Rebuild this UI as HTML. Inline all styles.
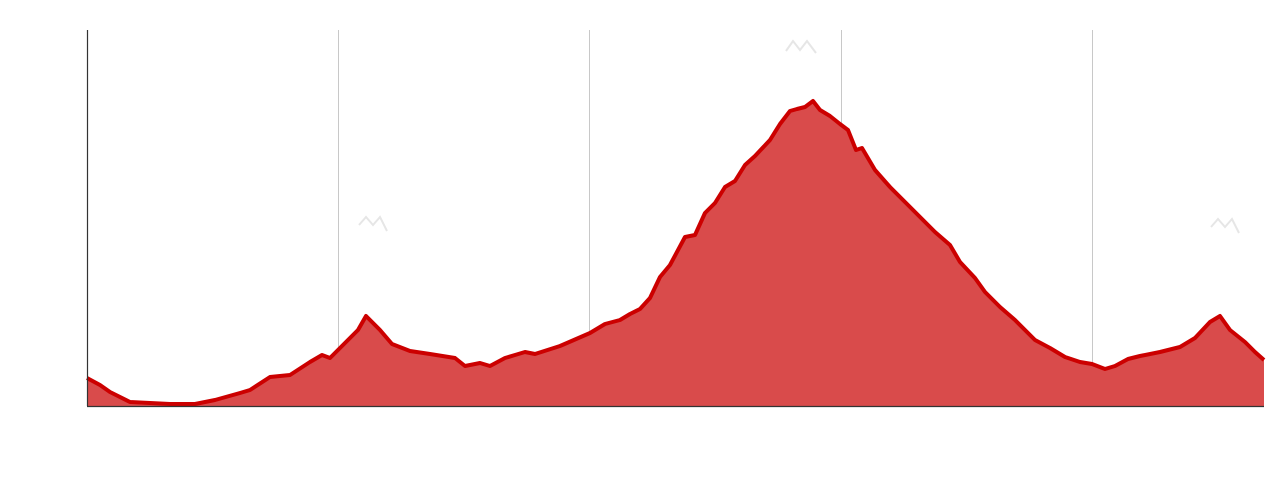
<!DOCTYPE html>
<html><head><meta charset="utf-8"><style>
html,body{margin:0;padding:0;background:#fff;}
svg{display:block;font-family:"Liberation Sans",sans-serif;}
</style></head><body>
<svg id="chart" width="1284" height="478">
  <g id="grid"></g>
  <g fill="none" stroke="#e6e6e6" stroke-width="2">
    <polyline points="359,225 366,217 373,225 380,217 387,231"/>
    <polyline points="786,51 793,41 800,50 807,41 816,53"/>
    <polyline points="1211,227 1218,219 1225,227 1232,219 1239,233"/>
  </g>
  <path id="area" fill="#d94b4b"/>
  <path id="line" fill="none" stroke="#cc0000" stroke-width="4" stroke-linejoin="round"/>
  <line x1="87.5" y1="30" x2="87.5" y2="406" stroke="#333" stroke-width="1.2"/>
  <line x1="87" y1="406.5" x2="1264" y2="406.5" stroke="#333" stroke-width="1.2"/>
</svg>
<script>
const distance = [0,13,23,43,63,83,108,128,153,163,183,203,223,235,243,258,271,279,293,305,323,343,368,378,393,403,418,428,438,448,473,503,518,533,543,553,563,573,583,598,608,618,628,638,648,658,668,683,693,703,710,718,726,733,743,753,761,769,775,788,803,818,833,848,863,873,888,898,913,928,948,963,978,993,1005,1018,1028,1041,1053,1073,1093,1108,1123,1133,1143,1158,1168,1177];
const elevation = [28,21,14,4,3,2,2,6,13,16,29,31,44,51,48,63,76,90,76,62,55,52,48,40,43,40,48,51,54,52,60,73,82,86,92,97,108,129,141,169,171,193,203,219,225,241,250,266,282,295,297,299,305,296,290,282,276,256,258,236,219,204,189,174,161,144,128,114,99,86,66,58,49,44,42,37,40,47,50,54,59,68,84,90,76,64,54,46];
const xTicks = [0,251,502,754,1005];
const xMax = 1177, yMax = 376;
const L=87, R=1264, T=30, B=406;
const sx = d => L + d/xMax*(R-L);
const sy = v => B - v/yMax*(B-T);
const ns="http://www.w3.org/2000/svg";
const grid=document.getElementById('grid');
xTicks.forEach(t=>{
  if(t===0) return;
  const l=document.createElementNS(ns,'line');
  
  
  l.setAttribute('x1',sx(t)+0.5);l.setAttribute('x2',sx(t)+0.5);
  l.setAttribute('y1',T);l.setAttribute('y2',B);
  l.setAttribute('stroke','#c8c8c8');l.setAttribute('stroke-width','1');
  grid.appendChild(l);
});
let d='';
distance.forEach((x,i)=>{d+=(i?'L':'M')+sx(x).toFixed(1)+','+sy(elevation[i]).toFixed(1);});
document.getElementById('line').setAttribute('d',d);
document.getElementById('area').setAttribute('d',d+'L'+sx(distance[distance.length-1])+','+B+'L'+sx(distance[0])+','+B+'Z');
</script>
</body></html>
